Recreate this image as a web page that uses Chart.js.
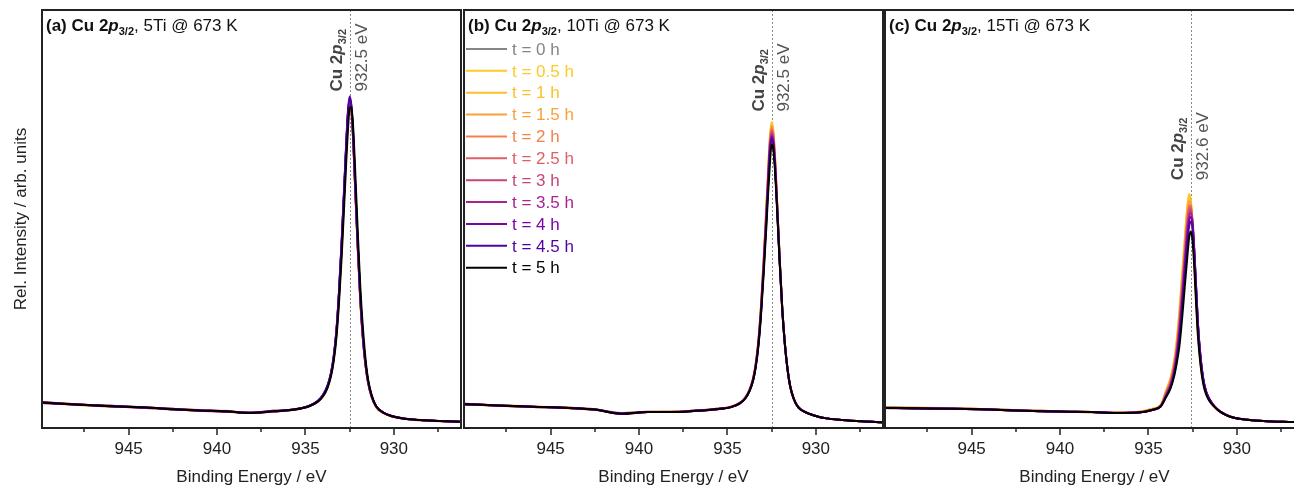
<!DOCTYPE html>
<html>
<head>
<meta charset="utf-8">
<style>
  html, body { margin: 0; padding: 0; background: #fff; overflow: hidden; width: 1294px; height: 489px; }
  canvas { position: absolute; top: 0; }
</style>
</head>
<body>
<canvas id="panelA" width="463" height="489" style="left:0px"></canvas>
<canvas id="panelB" width="424" height="489" style="left:461px"></canvas>
<canvas id="panelC" width="424" height="489" style="left:882px"></canvas>
<script src="https://cdn.jsdelivr.net/npm/chart.js"></script>
<script>
    // binding energies (eV) shared by all spectra
    const energy = [949.9, 948, 946, 944, 942.5, 941, 939.5, 938.2, 936.8, 935.6, 934.8, 934.3,
        934.0, 933.75, 933.55, 933.4, 933.25, 933.1, 932.95, 932.8, 932.7, 932.6, 932.5, 932.4, 932.3,
        932.2, 932.05, 931.9, 931.75, 931.6, 931.45, 931.25, 931.0, 930.6, 930.1, 929.4, 928.5, 927.4, 926.2];
    const xTicks = [947.5, 945, 942.5, 940, 937.5, 935, 932.5, 930, 927.5];
    const timeLabels = ['t = 0 h', 't = 0.5 h', 't = 1 h', 't = 1.5 h', 't = 2 h', 't = 2.5 h',
        't = 3 h', 't = 3.5 h', 't = 4 h', 't = 4.5 h', 't = 5 h'];
    const lineColors = ['#858585', '#fdca26', '#fdbf2a', '#fb9f3a', '#f1824c', '#de5f65',
        '#c9447a', '#a92395', '#7d03a8', '#4e02a2', '#000000'];

    // (a) 5Ti
    const spectraA = [
        [6.2,5.7,5.2,4.9,4.6,4.2,4.0,3.7,4.0,4.4,5.3,6.4, 7.8,9.9,12.9,16.6,22.5,31.5,43,56.5,65.5,73.5,78,76,69,59,44,31,21.5,15,10.8, 7.4,5.0,3.6,2.8,2.2,1.9,1.7,1.5],
        [6.0,5.6,5.3,4.8,4.5,4.3,3.9,3.6,4.1,4.5,5.3,6.4, 7.8,10,13,16.8,22.8,32,43.5,57,66,73.5,77.5,75.5,68.5,58.5,43.5,30.5,21,14.8,10.6, 7.3,5.0,3.6,2.7,2.2,1.9,1.7,1.5],
        [6.1,5.5,5.2,4.9,4.6,4.1,4.0,3.7,4.0,4.4,5.2,6.3, 7.7,9.8,12.8,16.5,22.3,31.5,43,56.5,65.8,73.8,77.8,76,69,59,44,31,21.5,15,10.7, 7.4,5.1,3.7,2.8,2.2,1.9,1.7,1.5],
        [6.2,5.6,5.1,4.9,4.5,4.2,4.1,3.6,3.9,4.5,5.3,6.4, 7.8,9.9,12.9,16.7,22.6,32,43.6,57,66.2,74.2,78.2,76.2,69.2,59,44,31,21.6,15,10.8, 7.4,5.0,3.6,2.8,2.3,1.9,1.7,1.5],
        [6.0,5.7,5.2,4.8,4.5,4.3,3.9,3.7,4.0,4.4,5.2,6.3, 7.7,9.8,12.8,16.6,22.5,31.8,43.4,56.8,66,74,78,76,69,59,44,31,21.4,15,10.7, 7.4,5.1,3.6,2.8,2.2,1.8,1.7,1.5],
        [6.1,5.6,5.3,4.9,4.4,4.2,4.0,3.6,4.1,4.4,5.3,6.4, 7.8,9.9,13,16.8,22.7,32,43.8,57.3,66.4,74.4,78.3,76.3,69.3,59.2,44.2,31.2,21.6,15.1,10.8, 7.5,5.1,3.7,2.8,2.2,1.9,1.6,1.5],
        [6.2,5.6,5.2,4.9,4.5,4.1,3.9,3.7,4.0,4.5,5.2,6.4, 7.8,10,13,16.8,22.8,32.2,44,57.5,66.6,74.6,78.5,76.5,69.5,59.4,44.4,31.3,21.7,15.2,10.9, 7.5,5.1,3.7,2.8,2.2,1.9,1.7,1.5],
        [6.1,5.7,5.2,4.8,4.6,4.2,4.0,3.6,4.0,4.4,5.3,6.3, 7.9,10,13.1,16.9,22.9,32.3,44.1,57.6,66.8,74.8,78.6,76.6,69.6,59.5,44.5,31.4,21.8,15.2,10.9, 7.5,5.2,3.7,2.8,2.2,1.9,1.7,1.5],
        [6.0,5.6,5.3,4.9,4.5,4.2,3.9,3.7,4.1,4.5,5.2,6.4, 7.9,10,13.1,17,23,32.4,44.3,57.8,67,75,78.8,76.8,69.8,59.7,44.6,31.5,21.9,15.3,11, 7.6,5.2,3.7,2.9,2.3,1.9,1.7,1.5],
        [6.1,5.6,5.2,4.9,4.5,4.2,4.0,3.6,4.0,4.4,5.3,6.5, 8,10.2,13.3,17.2,23.3,32.8,44.8,58.4,67.6,75.6,79.3,77.2,70.2,60,45,31.8,22.1,15.4,11, 7.6,5.2,3.7,2.8,2.2,1.9,1.7,1.5],
        [6.1,5.6,5.2,4.9,4.5,4.2,4.0,3.6,4.0,4.4,5.2,6.3, 7.6,9.6,12.5,16,21.5,30,41,54,63,71,76.5,76.8,72,63,48,34,24,16.5,11.5, 7.8,5.2,3.7,2.8,2.2,1.9,1.7,1.5]
    ];

    // (b) 10Ti
    const spectraB = [
        [5.8,5.4,5.0,4.8,4.5,3.6,3.9,3.8,4.2,4.5,5.1,6.0, 7.1,9.0,11.7,15.1,20.4,28.6,39.3,51.4,59.7,67.6,71,68.8,62.5,53.7,40.2,28.1,19.7,13.8,9.8, 6.9,5.0,3.8,3.0,2.3,1.9,1.6,1.4],
        [5.6,5.5,5.1,4.9,4.4,3.5,3.8,3.9,4.1,4.6,5.1,6.0, 7.3,9.3,12,15.5,21,29.5,40.5,53,61.5,69.5,73.2,71,64.5,55.5,41.5,29,20.3,14.2,10.1, 7.0,5.0,3.8,3.0,2.3,1.9,1.6,1.4],
        [5.7,5.3,5.1,4.8,4.3,3.5,3.9,3.8,4.2,4.5,5.0,5.9, 7.3,9.2,11.9,15.4,20.9,29.3,40.3,52.7,61.2,69.2,72.8,70.7,64.2,55.2,41.3,28.9,20.2,14.2,10.1, 7.0,5.1,3.8,3.0,2.3,1.9,1.6,1.4],
        [5.8,5.4,5.2,4.7,4.4,3.4,3.8,3.9,4.1,4.5,5.1,6.0, 7.2,9.2,11.8,15.3,20.7,29,39.9,52.2,60.7,68.7,72.3,70.3,63.9,55,41.1,28.8,20.1,14.1,10, 7.0,5.0,3.8,3.0,2.3,1.9,1.6,1.4],
        [5.7,5.4,5.0,4.8,4.5,3.5,3.8,3.8,4.2,4.6,5.0,5.9, 7.2,9.1,11.7,15.2,20.6,28.8,39.6,51.8,60.3,68.2,71.8,69.9,63.6,54.8,41,28.7,20.1,14.1,10, 7.0,5.0,3.8,3.0,2.3,1.9,1.6,1.4],
        [5.6,5.4,5.1,4.8,4.4,3.4,3.9,3.8,4.1,4.5,5.1,5.9, 7.2,9.1,11.7,15.1,20.5,28.6,39.3,51.4,59.9,67.8,71.3,69.5,63.3,54.6,40.9,28.7,20.1,14.1,10, 7.0,5.1,3.8,3.0,2.3,1.9,1.6,1.4],
        [5.7,5.3,5.1,4.9,4.4,3.5,3.8,3.9,4.1,4.5,5.0,5.9, 7.1,9.0,11.6,15,20.3,28.4,39,51,59.4,67.3,70.7,69,62.9,54.3,40.8,28.6,20.1,14.1,10, 7.0,5.0,3.8,3.0,2.3,1.9,1.6,1.4],
        [5.8,5.4,5.0,4.8,4.4,3.4,3.8,3.8,4.2,4.5,5.0,6.0, 7.1,9.0,11.5,14.9,20.1,28.1,38.7,50.6,59,66.8,70.2,68.6,62.6,54.1,40.7,28.6,20.1,14.1,10, 7.0,5.0,3.9,3.0,2.3,1.9,1.6,1.4],
        [5.7,5.4,5.1,4.8,4.4,3.5,3.8,3.8,4.1,4.6,5.0,5.9, 7.1,8.9,11.5,14.8,20,27.9,38.3,50.1,58.5,66.3,69.7,68.2,62.3,53.9,40.6,28.6,20.1,14.1,10, 7.0,5.0,3.8,3.0,2.3,1.9,1.6,1.4],
        [5.7,5.4,5.1,4.8,4.4,3.4,3.8,3.8,4.1,4.5,5.0,5.9, 7.0,8.9,11.4,14.7,19.8,27.6,37.9,49.5,57.9,65.7,69.2,67.8,62,53.6,40.5,28.6,20.1,14.1,10, 7.0,5.0,3.8,3.0,2.3,1.9,1.6,1.4],
        [5.7,5.4,5.1,4.8,4.4,3.4,3.8,3.8,4.1,4.5,5.0,5.9, 7.0,8.8,11.3,14.5,19.5,27,37,48,56,63,67.8,66.5,61,53,40,28.5,20,14,10, 7.0,5.0,3.8,3.0,2.3,1.9,1.6,1.4]
    ];

    // (c) 15Ti
    const spectraC = [
        [4.8,4.7,4.6,4.4,4.2,4.0,3.9,3.8,3.6,3.7,4.3,5.3, 8.2,10.6,14,18,23.5,31,39,46.5,50.5,52,49.5,42.5,33.5,25,16.8,11.6,8.8,7.2,6.2, 5.1,4.1,3.1,2.4,2.0,1.7,1.5,1.4],
        [5.0,4.9,4.8,4.5,4.3,4.1,3.9,3.8,3.7,3.9,4.6,5.6, 9.0,12,16,21,28,36.5,45,53,56,54.5,48,39.5,31,23,15.5,11,8.4,7.0,6.0, 5.0,4.0,3.1,2.4,2.0,1.7,1.5,1.4],
        [4.9,4.8,4.7,4.5,4.2,4.0,3.9,3.8,3.7,3.8,4.5,5.5, 8.9,11.8,15.7,20.6,27.4,35.8,44.3,52.3,55.2,54,48,39.6,31.1,23.1,15.6,11.1,8.5,7.0,6.0, 5.0,4.1,3.1,2.4,2.0,1.7,1.5,1.4],
        [5.0,4.8,4.6,4.5,4.3,4.1,3.9,3.7,3.7,3.8,4.5,5.4, 8.7,11.5,15.3,20,26.6,34.8,43.3,51.3,54.3,53.6,48,39.8,31.3,23.3,15.8,11.2,8.5,7.1,6.0, 5.0,4.0,3.1,2.4,2.0,1.7,1.5,1.4],
        [4.9,4.7,4.7,4.4,4.2,4.0,3.9,3.8,3.6,3.8,4.4,5.4, 8.5,11.2,14.9,19.4,25.8,33.8,42.2,50.2,53.4,53.2,48.2,40,31.6,23.5,16,11.3,8.6,7.1,6.1, 5.0,4.1,3.1,2.4,2.0,1.7,1.5,1.4],
        [4.8,4.8,4.6,4.4,4.3,4.0,3.9,3.8,3.7,3.7,4.4,5.3, 8.3,10.9,14.5,18.8,25,32.8,41.2,49.2,52.6,53,48.5,40.5,32,23.8,16.2,11.4,8.7,7.2,6.1, 5.1,4.1,3.1,2.4,2.0,1.7,1.5,1.4],
        [4.9,4.7,4.6,4.4,4.2,4.1,3.9,3.8,3.6,3.7,4.3,5.3, 8.1,10.6,14.1,18.3,24.2,31.8,40.2,48.2,51.7,52.3,48.7,41,32.5,24.2,16.4,11.5,8.8,7.2,6.2, 5.1,4.1,3.1,2.4,2.0,1.7,1.5,1.4],
        [4.8,4.7,4.6,4.5,4.2,4.0,3.8,3.8,3.6,3.7,4.3,5.2, 7.9,10.3,13.7,17.7,23.4,30.8,39.1,47.1,50.7,51.5,48.8,41.5,33,24.6,16.6,11.6,8.8,7.3,6.2, 5.1,4.1,3.2,2.4,2.0,1.7,1.5,1.4],
        [4.8,4.7,4.6,4.4,4.2,4.0,3.9,3.8,3.6,3.7,4.3,5.2, 7.7,10,13.2,17,22.5,29.6,37.8,45.8,49.6,50.5,48.6,41.8,33.4,24.9,16.8,11.7,8.9,7.3,6.2, 5.1,4.1,3.1,2.4,2.0,1.7,1.5,1.4],
        [4.8,4.6,4.6,4.4,4.2,4.0,3.9,3.8,3.6,3.7,4.3,5.2, 7.5,9.7,12.8,16.3,21.4,28.3,36.3,44.2,48.2,49.4,47.8,41.6,33.4,25,16.9,11.8,8.9,7.3,6.2, 5.1,4.1,3.1,2.4,2.0,1.7,1.5,1.4],
        [4.8,4.7,4.6,4.4,4.2,4.0,3.9,3.8,3.6,3.7,4.3,5.2, 7.4,9.5,12.3,15.5,19.5,26,33.5,41,45.5,47,44.5,38,29.5,22,15,10.6,8.2,6.8,5.9, 5.0,4.1,3.1,2.4,2.0,1.7,1.5,1.4]
    ];

    const FAM = "'Liberation Sans', Arial, sans-serif";

    function drawRich(ctx, parts, x, y) {
        let cx = x;
        for (const p of parts) {
            ctx.font = p.font;
            ctx.fillStyle = p.color;
            ctx.fillText(p.text, cx, y + (p.dy || 0));
            cx += ctx.measureText(p.text).width;
        }
    }

    function cuParts(color) {
        return [
            {text: 'Cu 2', font: 'bold 17px ' + FAM, color: color},
            {text: 'p', font: 'italic bold 17px ' + FAM, color: color},
            {text: '3/2', font: 'bold 11px ' + FAM, color: color, dy: 4}
        ];
    }

    function decorPlugin(panel) {
        return {
            id: 'decor',
            beforeDatasetsDraw(chart) {
                const {ctx, chartArea: a, scales: {x}} = chart;
                const px = Math.round(x.getPixelForValue(panel.peakE)) + 0.5;
                ctx.save();
                ctx.strokeStyle = '#8a8a8a';
                ctx.lineWidth = 1;
                ctx.setLineDash([2, 2]);
                ctx.beginPath();
                ctx.moveTo(px, a.top);
                ctx.lineTo(px, a.bottom);
                ctx.stroke();
                ctx.restore();
            },
            afterDraw(chart) {
                const {ctx, chartArea: a, scales: {x, y}} = chart;
                ctx.save();
                // frame
                ctx.strokeStyle = '#222';
                ctx.lineWidth = 2;
                ctx.strokeRect(a.left, a.top, a.right - a.left, a.bottom - a.top);
                // ticks, major longer than minor
                ctx.lineWidth = 1.5;
                for (const v of xTicks) {
                    const px = Math.round(x.getPixelForValue(v));
                    ctx.beginPath();
                    ctx.moveTo(px, a.bottom);
                    ctx.lineTo(px, a.bottom + (v % 5 === 0 ? 7 : 4));
                    ctx.stroke();
                }
                // panel title
                ctx.textBaseline = 'alphabetic';
                ctx.textAlign = 'left';
                drawRich(ctx, [
                    {text: panel.tag + ' Cu 2', font: 'bold 17px ' + FAM, color: '#111'},
                    {text: 'p', font: 'italic bold 17px ' + FAM, color: '#111'},
                    {text: '3/2', font: 'bold 11px ' + FAM, color: '#111', dy: 4},
                    {text: ', ' + panel.sample + ' @ 673 K', font: '17px ' + FAM, color: '#111'}
                ], a.left + 4, 31);
                // peak label, rotated
                const px = x.getPixelForValue(panel.peakE);
                const py = y.getPixelForValue(panel.labelAt);
                ctx.save();
                ctx.translate(px - 8, py);
                ctx.rotate(-Math.PI / 2);
                drawRich(ctx, cuParts('#444'), 0, 0);
                ctx.restore();
                ctx.save();
                ctx.translate(px + 17, py);
                ctx.rotate(-Math.PI / 2);
                ctx.font = '17px ' + FAM;
                ctx.fillStyle = '#555';
                ctx.fillText(panel.peakE.toFixed(1) + ' eV', 0, 0);
                ctx.restore();
                // legend
                if (panel.legend) {
                    ctx.font = '17px ' + FAM;
                    ctx.textBaseline = 'middle';
                    ctx.lineWidth = 2;
                    timeLabels.forEach(function (lab, i) {
                        const ly = 49 + i * 21.87;
                        ctx.strokeStyle = lineColors[i];
                        ctx.beginPath();
                        ctx.moveTo(a.left + 2, ly);
                        ctx.lineTo(a.left + 43, ly);
                        ctx.stroke();
                        ctx.fillStyle = lineColors[i];
                        ctx.fillText(lab, a.left + 48, ly + 1);
                    });
                }
                ctx.restore();
            }
        };
    }

    function makePanel(id, spectra, panel) {
        const datasets = spectra.map(function (vals, i) {
            return {
                label: timeLabels[i],
                data: vals.map(function (v, k) { return {x: energy[k], y: v}; }),
                borderColor: lineColors[i],
                borderWidth: 2,
                pointRadius: 0,
                cubicInterpolationMode: 'monotone',
                fill: false,
                order: spectra.length - i   // later times drawn on top, t = 5 h last
            };
        });
        new Chart(document.getElementById(id), {
            type: 'line',
            data: {datasets: datasets},
            options: {
                responsive: false,
                animation: false,
                events: [],
                layout: {padding: {top: 10, right: 2, bottom: 0, left: panel.padLeft}},
                plugins: {legend: {display: false}, tooltip: {enabled: false}},
                scales: {
                    x: {
                        type: 'linear',
                        reverse: true,
                        min: 926.2,
                        max: 949.9,
                        afterBuildTicks: function (s) { s.ticks = xTicks.map(function (v) { return {value: v}; }); },
                        afterFit: function (s) { s.height = 61; },
                        ticks: {
                            autoSkip: false,
                            maxRotation: 0,
                            padding: 4,
                            color: '#222',
                            font: {family: FAM, size: 17},
                            callback: function (v) { return v % 5 === 0 ? String(v) : ''; }
                        },
                        grid: {display: true, drawOnChartArea: false, drawTicks: true, tickLength: 7, tickColor: 'rgba(0,0,0,0)'},
                        border: {display: false},
                        title: {display: true, text: 'Binding Energy / eV', color: '#222', font: {family: FAM, size: 17}, padding: {top: 0, bottom: 1}}
                    },
                    y: {
                        min: 0,
                        max: 100,
                        display: panel.showY,
                        afterFit: function (s) { s.width = panel.showY ? 42 : 0; },
                        ticks: {display: false},
                        grid: {display: false},
                        border: {display: false},
                        title: {display: true, text: 'Rel. Intensity / arb. units', color: '#222', font: {family: FAM, size: 17}, padding: {top: 11, bottom: 0}}
                    }
                }
            },
            plugins: [decorPlugin(panel)]
        });
    }

    makePanel('panelA', spectraA, {tag: '(a)', sample: '5Ti', peakE: 932.5, labelAt: 80.5, showY: true, legend: false, padLeft: 0});
    makePanel('panelB', spectraB, {tag: '(b)', sample: '10Ti', peakE: 932.5, labelAt: 75.7, showY: false, legend: true, padLeft: 3});
    makePanel('panelC', spectraC, {tag: '(c)', sample: '15Ti', peakE: 932.6, labelAt: 59.3, showY: false, legend: false, padLeft: 3});
</script>
</body>
</html>
